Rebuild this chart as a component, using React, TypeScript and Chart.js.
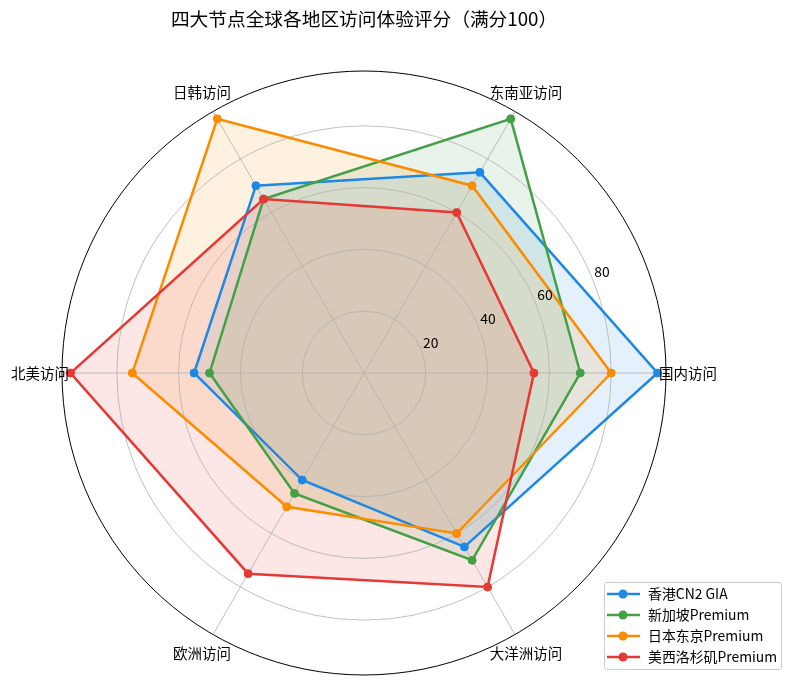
import { useEffect, useRef } from "react";
import { Chart, registerables } from "chart.js";

Chart.register(...registerables);

// categories counter-clockwise from the right, as in the reference
const categories = ["国内访问", "东南亚访问", "日韩访问", "北美访问", "欧洲访问", "大洋洲访问"];
const seriesNames = ["香港CN2 GIA", "新加坡Premium", "日本东京Premium", "美西洛杉矶Premium"];
const hongKong = [95, 75, 70, 55, 40, 65];
const singapore = [70, 95, 65, 50, 45, 70];
const tokyo = [80, 70, 95, 75, 50, 60];
const losAngeles = [55, 60, 65, 95, 75, 80];
const tickValues = [20, 40, 60, 80];
const rMax = 97.75;

const colors = ["#1E88E5", "#43A047", "#FB8C00", "#E53935"];
const fills = [
   "rgba(30,136,229,0.12)",
   "rgba(67,160,71,0.12)",
   "rgba(251,140,0,0.12)",
   "rgba(229,57,53,0.12)",
];
const fontFamily = '"Noto Sans CJK SC", "Noto Sans", sans-serif';

// chart.js walks clockwise, matplotlib counter-clockwise
const toClockwise = <T,>(arr: T[]): T[] => arr.map((_, k) => arr[(arr.length - k) % arr.length]);

const radarText = {
   id: "radarText",
   afterDatasetsDraw(chart: any) {
      const scale = chart.scales.r;
      const ctx = chart.ctx;
      ctx.save();
      ctx.fillStyle = "#000";
      ctx.font = `14.5px ${fontFamily}`;
      ctx.textAlign = "center";
      ctx.textBaseline = "middle";
      chart.data.labels.forEach((lab: string, k: number) => {
         const p = scale.getPointPosition(k, scale.drawingArea + 22);
         ctx.fillText(lab, p.x, p.y);
      });
      ctx.font = `13.9px ${fontFamily}`;
      ctx.textAlign = "left";
      ctx.textBaseline = "bottom";
      const a = (22.5 * Math.PI) / 180;
      tickValues.forEach((v) => {
         const d = scale.getDistanceFromCenterForValue(v);
         ctx.fillText(String(v), scale.xCenter + d * Math.cos(a) + 2, scale.yCenter - d * Math.sin(a));
      });
      ctx.restore();
   },
};

const App = () => {
   const canvasRef = useRef<HTMLCanvasElement>(null);

   useEffect(() => {
      if (!canvasRef.current) return;
      Chart.defaults.font.family = fontFamily;
      const series = [hongKong, singapore, tokyo, losAngeles];
      const chart = new Chart(canvasRef.current, {
         type: "radar",
         data: {
            labels: toClockwise(categories),
            datasets: series.map((vals, i) => ({
               label: seriesNames[i],
               data: toClockwise(vals),
               borderColor: colors[i],
               backgroundColor: fills[i],
               fill: true,
               borderWidth: 2.5,
               pointRadius: 4,
               pointBorderWidth: 1,
               pointBackgroundColor: colors[i],
               pointBorderColor: colors[i],
               order: series.length - i,
            })),
         },
         options: {
            responsive: false,
            animation: false,
            layout: { padding: { left: 61, right: 125, top: 0, bottom: 11 } },
            scales: {
               r: {
                  min: 0,
                  max: rMax,
                  startAngle: 90,
                  afterBuildTicks: (scale: any) => {
                     scale.ticks = [0, ...tickValues, rMax].map((value) => ({ value }));
                  },
                  ticks: { display: false },
                  pointLabels: { display: false },
                  grid: {
                     circular: true,
                     color: (c: any) => (c.tick && c.tick.value >= rMax ? "#000000" : "#b0b0b0"),
                     lineWidth: (c: any) => (c.tick && c.tick.value >= rMax ? 1 : 0.8),
                  },
                  angleLines: { color: "#b0b0b0", lineWidth: 0.8 },
               },
            },
            plugins: {
               legend: { display: false },
               tooltip: { enabled: false },
               filler: { drawTime: "beforeDraw" },
               title: {
                  display: true,
                  text: "四大节点全球各地区访问体验评分（满分100）",
                  color: "#000",
                  font: { size: 18.7, weight: "normal", family: fontFamily },
                  padding: { top: 8, bottom: 39.6 },
               },
            },
         } as any,
         plugins: [radarText],
      });
      return () => chart.destroy();
   }, []);

   return (
      <div style={{ position: "absolute", left: 0, top: 0, width: 792, height: 687, background: "#fff" }}>
         <canvas ref={canvasRef} width={792} height={687} style={{ display: "block", width: 792, height: 687 }} />
         <div
            style={{
               position: "absolute",
               left: 604,
               top: 582,
               width: 178,
               height: 88,
               boxSizing: "border-box",
               border: "1px solid #cccccc",
               borderRadius: 3,
               background: "rgba(255,255,255,0.8)",
               fontFamily,
               fontSize: 13.9,
               paddingLeft: 2,
            }}
         >
            {seriesNames.map((name, i) => (
               <div key={name} style={{ display: "flex", alignItems: "center", height: 21.1, whiteSpace: "nowrap" }}>
                  <svg width={33} height={12} style={{ flex: "none" }}>
                     <line x1={0} y1={6} x2={33} y2={6} stroke={colors[i]} strokeWidth={2.5} />
                     <circle cx={16} cy={6} r={4.5} fill={colors[i]} />
                  </svg>
                  <span style={{ marginLeft: 8, lineHeight: "21px" }}>{name}</span>
               </div>
            ))}
         </div>
      </div>
   );
};

export default App;
